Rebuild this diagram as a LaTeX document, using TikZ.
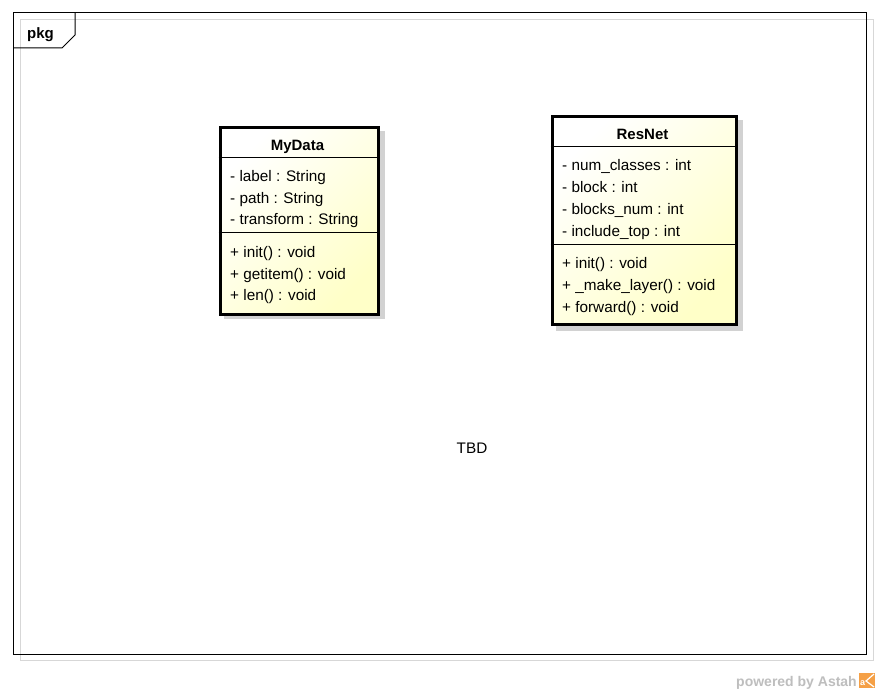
\documentclass[tikz,border=0pt]{standalone}
\usepackage{fontspec}
\setmainfont{Liberation Sans}
\definecolor{framegray}{RGB}{215,215,215}
\definecolor{shadowgray}{RGB}{210,210,210}
\definecolor{classyellow}{RGB}{255,255,200}
\definecolor{astahgray}{RGB}{190,190,190}
\definecolor{astahorange}{RGB}{245,160,70}
\begin{document}
\begin{tikzpicture}[x=1pt,y=-1pt,
  classbox/.style={draw=black, line width=3pt, inner sep=0pt, anchor=north west,
    top color=white, bottom color=classyellow, shading angle=45},
  sepline/.style={draw=black, line width=1pt},
  txt/.style={inner sep=0pt, anchor=base west, font=\fontsize{15.3}{18}\selectfont},
  title/.style={inner sep=0pt, anchor=base, font=\fontsize{15}{18}\selectfont\bfseries},
]
\useasboundingbox (0,0) rectangle (880,693);
\fill[white] (0,0) rectangle (880,693);
% package frame
\draw[framegray, line width=1pt] (20,20) rectangle (873,660);
\draw[black, line width=1pt] (13,13) rectangle (866,654);
\draw[black, line width=1pt] (75,13) -- (75,35) -- (62,48) -- (13,48);
\node[inner sep=0pt, anchor=base west, font=\fontsize{15}{18}\selectfont\bfseries] (pkg) at (27,38) {pkg};

% MyData
\fill[shadowgray] (224,131) rectangle (385,319);
\node[classbox, minimum width=158pt, minimum height=187pt] (mydata) at (218.5,125.5) {};
\draw[sepline] (218.5,157) -- (376.5,157);
\draw[sepline] (218.5,232) -- (376.5,232);
\node[title] (mydataname) at (297.5,150) {MyData};
\node[txt] (md1) at (230,181.5) {- label : String};
\node[txt] (md2) at (230,203) {- path : String};
\node[txt] (md3) at (230,224.5) {- transform : String};
\node[txt] (md4) at (230,257.5) {+ init() : void};
\node[txt] (md5) at (230,279) {+ getitem() : void};
\node[txt] (md6) at (230,300.5) {+ len() : void};

% ResNet
\fill[shadowgray] (556,120) rectangle (743,331);
\node[classbox, minimum width=184pt, minimum height=208pt] (resnet) at (550.5,114.5) {};
\draw[sepline] (550.5,146) -- (734.5,146);
\draw[sepline] (550.5,244) -- (734.5,244);
\node[title] (resnetname) at (642.5,139) {ResNet};
\node[txt] (rn1) at (562,170.5) {- num\_classes : int};
\node[txt] (rn2) at (562,192.5) {- block : int};
\node[txt] (rn3) at (562,214.5) {- blocks\_num : int};
\node[txt] (rn4) at (562,236.5) {- include\_top : int};
\node[txt] (rn5) at (562,268.5) {+ init() : void};
\node[txt] (rn6) at (562,290.5) {+ \_make\_layer() : void};
\node[txt] (rn7) at (562,312.5) {+ forward() : void};

% TBD
\node[inner sep=0pt, anchor=base, font=\fontsize{15.3}{18}\selectfont] (tbd) at (472,453) {TBD};

% powered by Astah
\node[inner sep=0pt, anchor=base east, text=astahgray, font=\fontsize{14}{16}\selectfont\bfseries] (powered) at (857,686) {powered by Astah};
\fill[astahorange] (859,673) rectangle (875,688);
\node[inner sep=0pt, anchor=base west, text=white, font=\fontsize{9}{10}\selectfont\bfseries] (logo) at (860,685) {a};
\draw[white, line width=1.2pt] (874,674) -- (866,681) -- (874,687);
\end{tikzpicture}
\end{document}
